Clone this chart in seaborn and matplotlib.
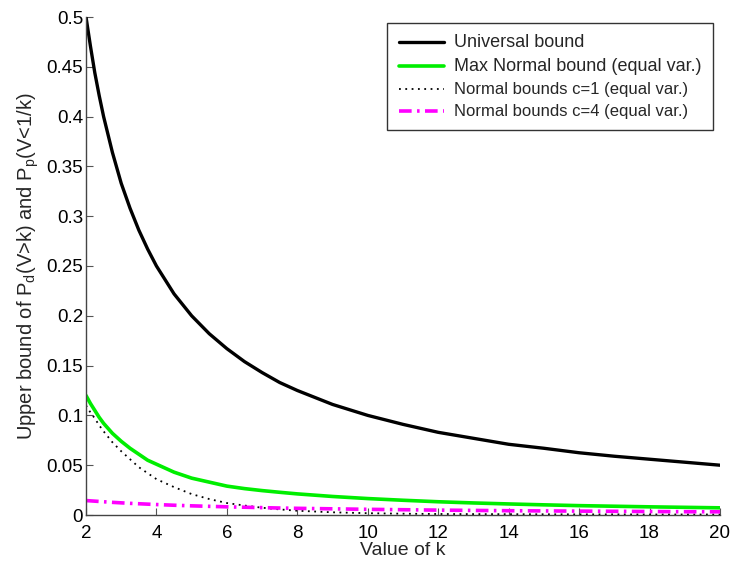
import numpy as np
import pandas as pd
import matplotlib
matplotlib.use("Agg")
import matplotlib.pyplot as plt
import seaborn as sns

k = [2, 2.125, 2.25, 2.375, 2.5, 2.75, 3, 3.25, 3.5, 3.75, 4, 4.5, 5, 5.5, 6, 6.5, 7, 7.5, 8, 9, 10,
     11, 12, 13, 14, 15, 16, 17, 18, 19, 20]
universal = [0.5, 0.471, 0.444, 0.421, 0.4, 0.364, 0.333, 0.308, 0.286, 0.267, 0.25, 0.222, 0.2, 0.182,
             0.167, 0.154, 0.143, 0.133, 0.125, 0.111, 0.1, 0.091, 0.083, 0.077, 0.071, 0.067, 0.0625,
             0.059, 0.056, 0.053, 0.05]
max_normal = [0.12, 0.112, 0.105, 0.098, 0.092, 0.082, 0.074, 0.067, 0.061, 0.055, 0.051, 0.043, 0.037,
              0.033, 0.029, 0.0265, 0.0245, 0.0228, 0.0212, 0.0186, 0.0165, 0.0148, 0.0133, 0.0121, 0.0111,
              0.0102, 0.0094, 0.0088, 0.0082, 0.0077, 0.0072]
normal_c1 = [0.11, 0.103, 0.097, 0.090, 0.084, 0.073, 0.064, 0.056, 0.048, 0.042, 0.036, 0.028, 0.021,
             0.016, 0.012, 0.0095, 0.0073, 0.0056, 0.0043, 0.0027, 0.0018, 0.0013, 0.001, 0.0009, 0.0008,
             0.0007, 0.0006, 0.0006, 0.0005, 0.0005, 0.0005]
normal_c4 = [0.0145, 0.0142, 0.0139, 0.0136, 0.0133, 0.0127, 0.0122, 0.0117, 0.0113, 0.0109, 0.0105,
             0.0098, 0.0092, 0.0087, 0.0082, 0.0078, 0.0074, 0.0070, 0.0067, 0.0062, 0.0057, 0.0053,
             0.0049, 0.0046, 0.0043, 0.0041, 0.0039, 0.0037, 0.0035, 0.0033, 0.0032]

labels = ["Universal bound", "Max Normal bound (equal var.)",
          "Normal bounds c=1 (equal var.)", "Normal bounds c=4 (equal var.)"]

df = pd.concat([
    pd.DataFrame({"k": k, "val": universal, "series": labels[0]}),
    pd.DataFrame({"k": k, "val": max_normal, "series": labels[1]}),
    pd.DataFrame({"k": k, "val": normal_c1, "series": labels[2]}),
    pd.DataFrame({"k": k, "val": normal_c4, "series": labels[3]}),
])

sns.set_style("white")
plt.rcParams["font.family"] = ["Liberation Sans", "DejaVu Sans"]

fig = plt.figure(figsize=(7.31, 5.63), dpi=100)
ax = fig.add_axes([86 / 731, 1 - 515 / 563, 634 / 731, 498 / 563])

styles = {
    labels[0]: dict(color="black", lw=2.4, ls="-"),
    labels[1]: dict(color="#00ee00", lw=2.6, ls="-"),
    labels[2]: dict(color="black", lw=1.3, ls=(0, (1, 2.5))),
    labels[3]: dict(color="magenta", lw=2.6, ls=(0, (3.5, 1.5, 0.7, 1.5))),
}
for lab in labels:
    sub = df[df["series"] == lab]
    st = styles[lab]
    sns.lineplot(data=sub, x="k", y="val", ax=ax, color=st["color"], linewidth=st["lw"],
                 linestyle=st["ls"], label=lab, estimator=None, sort=True)

ax.set_xlim(2, 20)
ax.set_ylim(0, 0.5)
ax.set_xticks(range(2, 21, 2))
yt = [0, 0.05, 0.1, 0.15, 0.2, 0.25, 0.3, 0.35, 0.4, 0.45, 0.5]
ax.set_yticks(yt)
ax.set_yticklabels(["0", "0.05", "0.1", "0.15", "0.2", "0.25", "0.3", "0.35", "0.4", "0.45", "0.5"])
ax.tick_params(direction="in", length=5, width=0.8, labelsize=13.5, colors="#555555",
               labelcolor="black", bottom=True, left=True)
ax.tick_params(axis="y", pad=2)
ax.tick_params(axis="x", pad=7)
for s in ["top", "right"]:
    ax.spines[s].set_visible(False)
for s in ["left", "bottom"]:
    ax.spines[s].set_color("#444444")
    ax.spines[s].set_linewidth(1.0)

ax.set_xlabel("Value of k", fontsize=14, labelpad=0)
ax.set_ylabel(r"Upper bound of P$_\mathregular{d}$(V>k) and P$_\mathregular{p}$(V<1/k)", fontsize=14.5, labelpad=4)

leg = ax.legend(loc="upper right", bbox_to_anchor=(0.989, 0.988), frameon=True, fancybox=False,
                framealpha=1, edgecolor="#333333", borderpad=0.8, handlelength=3.3,
                handletextpad=0.72, labelspacing=0.5, borderaxespad=0)
leg.get_frame().set_linewidth(1.0)
for i, t in enumerate(leg.get_texts()):
    t.set_fontsize(13 if i < 2 else 12)

fig.savefig("out.png", dpi=100)
